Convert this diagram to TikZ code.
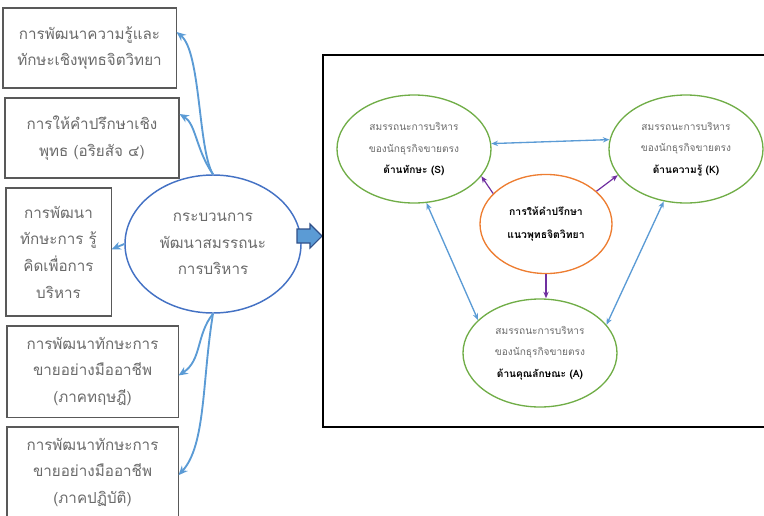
\documentclass[tikz,border=0pt]{standalone}
\usepackage{fontspec}
\newfontfamily\thai[Script=Thai]{Loma}
\usetikzlibrary{arrows.meta,shapes.geometric}
\definecolor{boxline}{HTML}{595959}
\definecolor{boxtext}{HTML}{6A6A6A}
\definecolor{linkblue}{HTML}{5B9BD5}
\definecolor{procblue}{HTML}{4472C4}
\definecolor{kgreen}{HTML}{70AD47}
\definecolor{corange}{HTML}{ED7D31}
\definecolor{cpurple}{HTML}{7030A0}
\begin{document}
\begin{tikzpicture}[x=0.75pt,y=-0.75pt,
    stepbox/.style={draw=boxline, line width=0.8pt, text=boxtext, align=center,
        inner sep=0pt, font=\thai\fontsize{11.4}{20}\selectfont},
    proc/.style={ellipse, draw=procblue, line width=1.1pt, text=boxtext, align=center,
        inner sep=0pt, minimum width=132pt, minimum height=103.5pt,
        font=\thai\fontsize{11.4}{20}\selectfont},
    comp/.style={ellipse, draw=kgreen, line width=1pt, text=boxtext, align=center,
        inner sep=0pt, minimum width=115.5pt, minimum height=81pt,
        font=\thai\fontsize{7.6}{16}\selectfont},
    core/.style={ellipse, draw=corange, line width=1pt, align=center,
        inner sep=0pt, minimum width=99pt, minimum height=74.3pt,
        font=\thai\fontsize{7.8}{17}\selectfont\bfseries},
    devarrow/.style={draw=linkblue, line width=1.4pt, -{Stealth[length=7pt,width=6pt]}},
    link/.style={draw=linkblue, line width=1pt, {Stealth[length=5pt,width=4pt]}-{Stealth[length=5pt,width=4pt]}},
    lead/.style={draw=cpurple, line width=0.9pt, -{Stealth[length=5pt,width=4pt]}}]
\clip (0,0) rectangle (764,515);

% left side
\node[stepbox, minimum width=129.8pt, minimum height=60pt] (dev1) at (89.5,48)
    {การพัฒนาความรู้และ\\ทักษะเชิงพุทธจิตวิทยา};
\node[stepbox, minimum width=130.5pt, minimum height=60pt] (dev2) at (92,138)
    {การให้คำปรึกษาเชิง\\พุทธ (อริยสัจ ๔)};
\node[stepbox, minimum width=78.8pt, minimum height=96pt] (dev3) at (58.5,252)
    {การพัฒนา\\ทักษะการ รู้\\คิดเพื่อการ\\บริหาร};
\node[stepbox, minimum width=128.3pt, minimum height=68.3pt] (dev4) at (92.5,371.5)
    {การพัฒนาทักษะการ\\ขายอย่างมืออาชีพ\\(ภาคทฤษฎี)};
\node[stepbox, minimum width=128.3pt, minimum height=68.3pt] (dev5) at (92.5,472.5)
    {การพัฒนาทักษะการ\\ขายอย่างมืออาชีพ\\(ภาคปฏิบัติ)};
\node[proc] (proc) at (213,244) {กระบวนการ\\พัฒนาสมรรถนะ\\การบริหาร};

\draw[devarrow] (proc.north) .. controls (198,150) and (201,52) .. ([yshift=12pt]dev1.east);
\draw[devarrow] (proc.north) .. controls (196,150) and (196,124) .. ([yshift=18pt]dev2.east);
\draw[devarrow] (proc.west) -- ([yshift=2pt]dev3.east);
\draw[devarrow] (proc.south) .. controls (196,335) and (202,360) .. ([yshift=-3pt]dev4.east);
\draw[devarrow] (proc.south) .. controls (202,380) and (206,445) .. ([yshift=-2pt]dev5.east);

% block arrow
\draw[draw=procblue!70!black, fill=linkblue, line width=0.8pt]
    (297,229) -- (310,229) -- (310,224) -- (322,236) -- (310,248) -- (310,243) -- (297,243) -- cycle;

% right side
\draw[line width=1.6pt] (323,55) rectangle (790,427);
\node[comp] (skill) at (414,149) {สมรรถนะการบริหาร\\ของนักธุรกิจขายตรง\\\textcolor{black}{\bfseries ด้านทักษะ (S)}};
\node[comp] (know) at (686,149) {สมรรถนะการบริหาร\\ของนักธุรกิจขายตรง\\\textcolor{black}{\bfseries ด้านความรู้ (K)}};
\node[comp] (attr) at (540,353) {สมรรถนะการบริหาร\\ของนักธุรกิจขายตรง\\\textcolor{black}{\bfseries ด้านคุณลักษณะ (A)}};
\node[core] (counsel) at (546,224) {การให้คำปรึกษา\\แนวพุทธจิตวิทยา};

\draw[link] (skill.4) -- (know.173);
\draw[link] (skill.-77) -- (attr.152);
\draw[link] (know.247) -- (attr.23);
\draw[lead] (counsel.150) -- (skill.-22);
\draw[lead] (counsel.33) -- (know.201);
\draw[lead] (counsel.south) -- (counsel.south |- attr.north);
\end{tikzpicture}
\end{document}
